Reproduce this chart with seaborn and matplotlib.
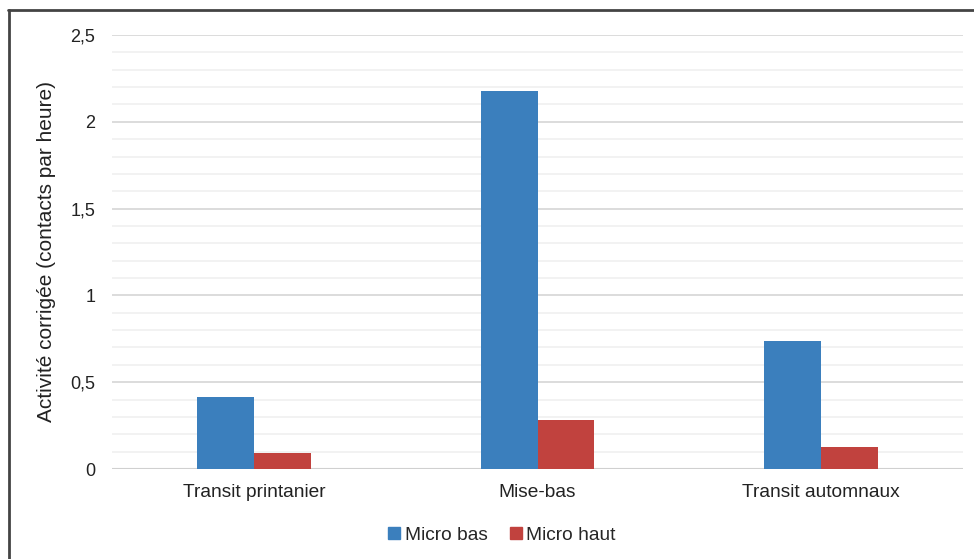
import matplotlib
matplotlib.use("Agg")
import matplotlib.pyplot as plt
from matplotlib.lines import Line2D
from matplotlib.ticker import MultipleLocator, FuncFormatter
import seaborn as sns
import pandas as pd

# Data
categories = ["Transit printanier", "Mise-bas", "Transit automnaux"]
micro_bas = [0.415, 2.18, 0.74]
micro_haut = [0.095, 0.28, 0.125]
series_names = ["Micro bas", "Micro haut"]
colors = ["#3b7fbd", "#c1423e"]

df = pd.DataFrame({
    "categorie": categories * 2,
    "valeur": micro_bas + micro_haut,
    "serie": [series_names[0]] * 3 + [series_names[1]] * 3,
})

sns.set_theme(style="white")
plt.rcParams["font.family"] = ["Liberation Sans", "DejaVu Sans"]

fig = plt.figure(figsize=(9.74, 5.59), dpi=100)
ax = fig.add_axes([0.115, 0.161, 0.8737, 0.7764])

sns.barplot(data=df, x="categorie", y="valeur", hue="serie",
            palette=colors, width=0.4, ax=ax, legend=True,
            saturation=1, linewidth=0, zorder=3)

ax.set_ylim(0, 2.5)
ax.set_xlim(-0.5, 2.5)
ax.yaxis.set_major_locator(MultipleLocator(0.5))
ax.yaxis.set_minor_locator(MultipleLocator(0.1))
ax.yaxis.set_major_formatter(FuncFormatter(lambda v, p: f"{v:g}".replace(".", ",")))
ax.grid(which="minor", axis="y", color="#f0f0f0", linewidth=1.2, zorder=0)
ax.grid(which="major", axis="y", color="#d9d9d9", linewidth=1.3, zorder=0)
ax.set_axisbelow(True)
for s in ax.spines.values():
    s.set_visible(False)
ax.axhline(0, color="#d0d0d0", linewidth=1.5, zorder=2)

ax.tick_params(axis="both", which="both", length=0, colors="#222222")
ax.tick_params(axis="y", labelsize=13, pad=12)
ax.tick_params(axis="x", labelsize=13.8, pad=11)
ax.set_xlabel("")
ax.set_ylabel("Activité corrigée (contacts par heure)", fontsize=15,
              color="#222222", labelpad=10)

ax.legend_.remove()
handles = [Line2D([0], [0], marker="s", linestyle="", markersize=9,
                  markerfacecolor=c, markeredgecolor=c) for c in colors]
fig.legend(handles, series_names, loc="center", bbox_to_anchor=(0.514, 0.043),
           ncol=2, frameon=False, fontsize=13.8, handletextpad=0.1,
           columnspacing=1.0, handlelength=0.9)

# Outer frame (top and left edges)
fig.add_artist(Line2D([8 / 974, 1.0], [1 - 10 / 559, 1 - 10 / 559],
                      transform=fig.transFigure, color="#444444", linewidth=2))
fig.add_artist(Line2D([9 / 974, 9 / 974], [0.0, 1 - 10 / 559],
                      transform=fig.transFigure, color="#444444", linewidth=2))

fig.savefig("out.png", dpi=100, facecolor="white")
